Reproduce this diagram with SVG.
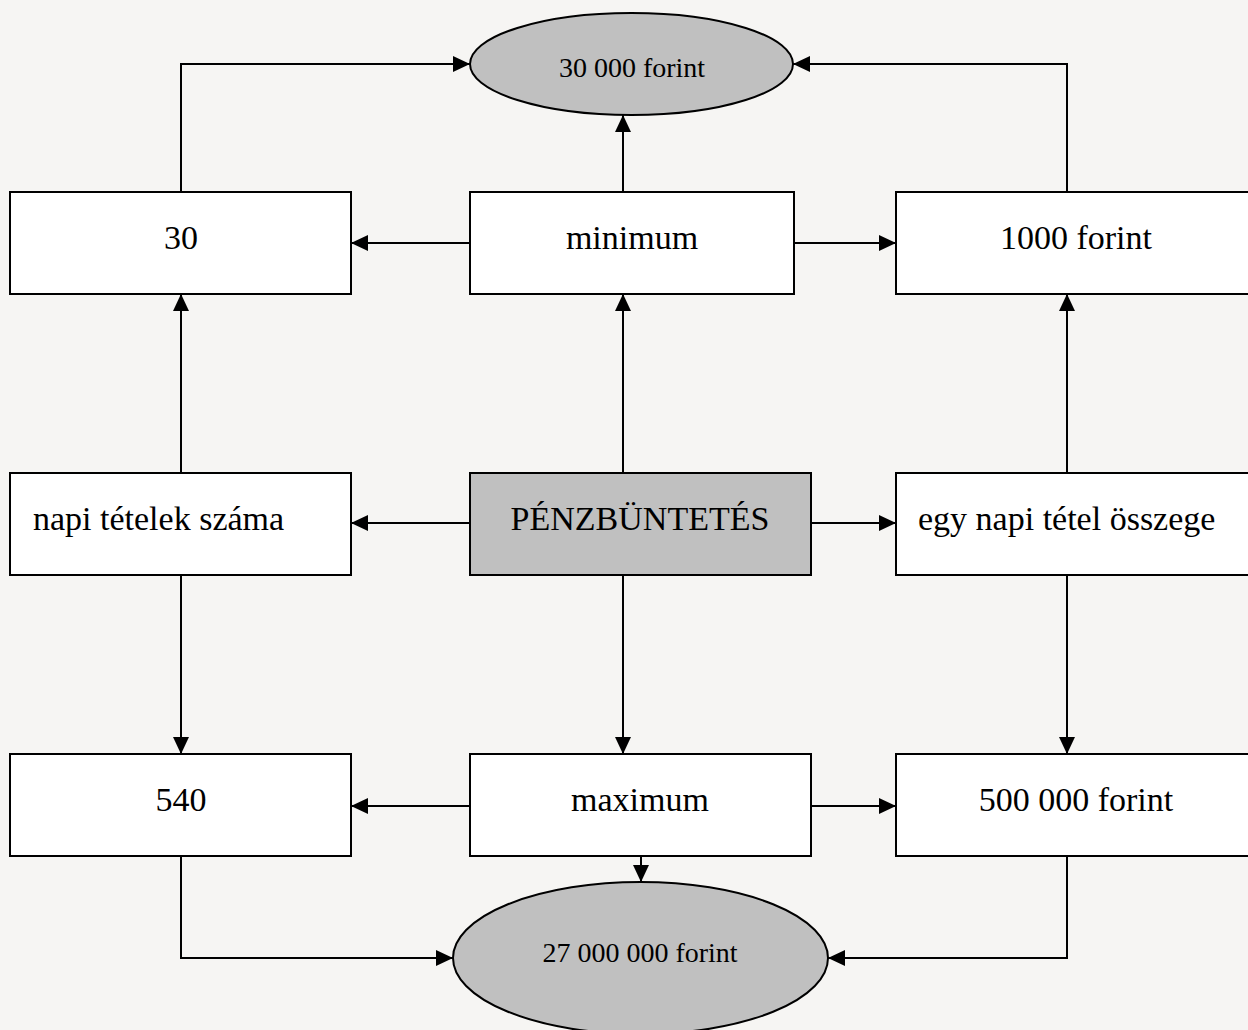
<svg xmlns="http://www.w3.org/2000/svg" width="1248" height="1030" viewBox="0 0 1248 1030">
<defs>
<marker id="ah" viewBox="0 0 17 16" refX="17" refY="8" markerWidth="17" markerHeight="16" markerUnits="userSpaceOnUse" orient="auto">
<path d="M0,0 L17,8 L0,16 Z" fill="#000"/>
</marker>
</defs>
<style>
.box{fill:#fff;stroke:#000;stroke-width:2}
.gray{fill:#c0c0c0;stroke:#000;stroke-width:2}
.t{font-family:"Liberation Serif","Times New Roman",serif;font-size:34px;fill:#000}
.e{font-family:"Liberation Serif","Times New Roman",serif;font-size:28px;fill:#000}
.c{fill:none;stroke:#000;stroke-width:2;marker-end:url(#ah)}
</style>
<rect width="1248" height="1030" fill="#f6f5f3"/>
<g id="connectors">
<path class="c" d="M181,192 V64 H470"/>
<path class="c" d="M1067,192 V64 H793"/>
<path class="c" d="M623,192 V115"/>
<path class="c" d="M470,243 H351"/>
<path class="c" d="M794,243 H896"/>
<path class="c" d="M181,473 V294"/>
<path class="c" d="M623,473 V294"/>
<path class="c" d="M1067,473 V294"/>
<path class="c" d="M470,523 H351"/>
<path class="c" d="M811,523 H896"/>
<path class="c" d="M181,575 V754"/>
<path class="c" d="M623,575 V754"/>
<path class="c" d="M1067,575 V754"/>
<path class="c" d="M470,806 H351"/>
<path class="c" d="M811,806 H896"/>
<path class="c" d="M641,856 V882"/>
<path class="c" d="M181,856 V958 H453"/>
<path class="c" d="M1067,856 V958 H828"/>
</g>
<g id="top-ellipse">
<ellipse class="gray" cx="631.5" cy="64" rx="161.5" ry="51"/>
<text class="e" x="632" y="77" text-anchor="middle">30 000 forint</text>
</g>
<g id="n30">
<rect class="box" x="10" y="192" width="341" height="102"/>
<text class="t" x="181" y="249" text-anchor="middle">30</text>
</g>
<g id="minimum">
<rect class="box" x="470" y="192" width="324" height="102"/>
<text class="t" x="632" y="249" text-anchor="middle">minimum</text>
</g>
<g id="n1000">
<rect class="box" x="896" y="192" width="360" height="102"/>
<text class="t" x="1076" y="249" text-anchor="middle">1000 forint</text>
</g>
<g id="napi">
<rect class="box" x="10" y="473" width="341" height="102"/>
<text class="t" x="33" y="530">napi tételek száma</text>
</g>
<g id="penzbuntetes">
<rect class="gray" x="470" y="473" width="341" height="102"/>
<text class="t" x="640" y="530" text-anchor="middle">PÉNZBÜNTETÉS</text>
</g>
<g id="egynapi">
<rect class="box" x="896" y="473" width="360" height="102"/>
<text class="t" x="918" y="530">egy napi tétel összege</text>
</g>
<g id="n540">
<rect class="box" x="10" y="754" width="341" height="102"/>
<text class="t" x="181" y="811" text-anchor="middle">540</text>
</g>
<g id="maximum">
<rect class="box" x="470" y="754" width="341" height="102"/>
<text class="t" x="640" y="811" text-anchor="middle">maximum</text>
</g>
<g id="n500000">
<rect class="box" x="896" y="754" width="360" height="102"/>
<text class="t" x="1076" y="811" text-anchor="middle">500 000 forint</text>
</g>
<g id="bottom-ellipse">
<ellipse class="gray" cx="640.5" cy="958" rx="187.5" ry="76"/>
<text class="e" x="640" y="962" text-anchor="middle">27 000 000 forint</text>
</g>
</svg>
